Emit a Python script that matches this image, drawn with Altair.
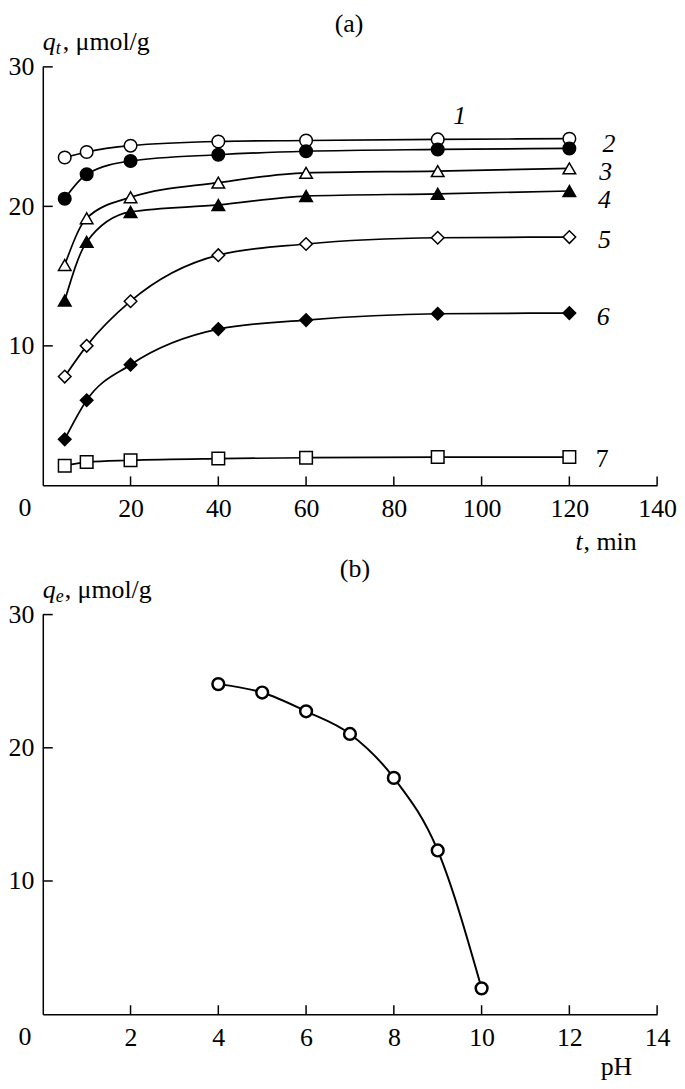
import altair as alt
import pandas as pd

FONT = "Liberation Serif, Times New Roman, serif"
FS = 26

# ---------- panel (a): kinetics ----------
t_min = [5, 10, 20, 40, 60, 90, 120]
q1 = [23.5, 23.9, 24.35, 24.65, 24.72, 24.8, 24.85]
q2 = [20.55, 22.3, 23.25, 23.7, 23.95, 24.08, 24.15]
q3 = [15.8, 19.15, 20.65, 21.7, 22.4, 22.53, 22.72]
q4 = [13.25, 17.45, 19.6, 20.1, 20.74, 20.9, 21.1]
q5 = [7.8, 10.0, 13.2, 16.5, 17.3, 17.75, 17.8]
q6 = [3.3, 6.1, 8.65, 11.2, 11.85, 12.3, 12.35]
q7 = [1.4, 1.67, 1.8, 1.92, 1.98, 2.03, 2.03]
series_q = [q1, q2, q3, q4, q5, q6, q7]
series_names = ["1", "2", "3", "4", "5", "6", "7"]
shapes = ["circle", "circle", "triangle-up", "triangle-up", "diamond", "diamond", "square"]
fills = ["white", "black", "white", "black", "white", "black", "white"]
sizes = [160, 160, 170, 170, 140, 140, 160]

label_t = [95, 129, 128.3, 128, 128, 127.7, 127.5]
label_q = [26.5, 24.45, 22.45, 20.45, 17.6, 12.1, 1.9]

xa_ticks = [20, 40, 60, 80, 100, 120, 140]
ya_ticks = [10, 20, 30]

# ---------- panel (b): pH ----------
pH = [4, 5, 6, 7, 8, 9, 10]
qe = [24.78, 24.15, 22.74, 21.04, 17.74, 12.29, 1.94]
xb_ticks = [2, 4, 6, 8, 10, 12, 14]
yb_ticks = [10, 20, 30]

W = 618
HA = 421
HB = 402

rows = []
for name, qs in zip(series_names, series_q):
    for t, q in zip(t_min, qs):
        rows.append({"t": t, "q": q, "s": name})
dfa = pd.DataFrame(rows)
dfa_lab = pd.DataFrame({"t": label_t, "q": label_q, "s": series_names})
dfb = pd.DataFrame({"pH": pH, "qe": qe})


def axis_x(values):
    return alt.Axis(values=values, ticks=False, tickSize=0, labelPadding=10,
                    labelFontSize=FS, labelFont=FONT, labelColor="black",
                    domainColor="black", domainWidth=1.5, grid=False, title=None,
                    labelFlush=False, labelOverlap=False)


def axis_y(values):
    return alt.Axis(values=values, ticks=False, tickSize=0, labelPadding=9,
                    labelFontSize=FS, labelFont=FONT, labelColor="black",
                    domainColor="black", domainWidth=1.5, grid=False, title=None,
                    labelFlush=False, labelOverlap=False)


def ptext(s, x, y, size=FS, style="normal", align="left"):
    return alt.Chart(pd.DataFrame({"s": [s]})).mark_text(
        text=s, font=FONT, fontSize=size, fontStyle=style, align=align,
        baseline="alphabetic", color="black"
    ).encode(x=alt.value(x), y=alt.value(y))


# ---- panel (a)
xsa = alt.Scale(domain=[0, 140], nice=False, zero=False)
ysa = alt.Scale(domain=[0, 30], nice=False, zero=False)
XA = lambda f="t": alt.X(f"{f}:Q", scale=xsa, axis=axis_x(xa_ticks))
YA = lambda f="q": alt.Y(f"{f}:Q", scale=ysa, axis=axis_y(ya_ticks))

lines_a = alt.Chart(dfa).mark_line(color="black", strokeWidth=1.7, interpolate="monotone").encode(
    x=XA(), y=YA(), detail="s:N")

pts_a = alt.Chart(dfa).mark_point(filled=True, stroke="black", strokeWidth=1.5,
                                  opacity=1, fillOpacity=1).encode(
    x=XA(), y=YA(),
    shape=alt.Shape("s:N", scale=alt.Scale(domain=series_names, range=shapes), legend=None),
    fill=alt.Fill("s:N", scale=alt.Scale(domain=series_names, range=fills), legend=None),
    size=alt.Size("s:N", scale=alt.Scale(domain=series_names, range=sizes), legend=None))

lab_it = alt.Chart(dfa_lab[dfa_lab.s != "7"]).mark_text(
    font=FONT, fontSize=FS, fontStyle="italic", color="black", baseline="middle").encode(
    x=XA(), y=YA(), text="s:N")
lab_up = alt.Chart(dfa_lab[dfa_lab.s == "7"]).mark_text(
    font=FONT, fontSize=FS, color="black", baseline="middle").encode(
    x=XA(), y=YA(), text="s:N")

xt_a = alt.Chart(pd.DataFrame({"t": xa_ticks})).mark_rule(color="black", strokeWidth=1.5).encode(
    x=XA(), y=alt.value(HA), y2=alt.value(HA - 9))
yt_a = alt.Chart(pd.DataFrame({"q": ya_ticks})).mark_rule(color="black", strokeWidth=1.5).encode(
    y=YA(), x=alt.value(0), x2=alt.value(10))

texts_a = [
    ptext("(a)", 308, -35, align="center"),
    ptext("q", 0, -17, style="italic"),
    ptext("t", 13, -13, size=18, style="italic"),
    ptext(", \u03bcmol/g", 20, -17),
    ptext("0", -18, HA + 31, align="center"),
    ptext("t", 536, HA + 65, style="italic"),
    ptext(", min", 544, HA + 65),
]

panel_a = alt.layer(
    lines_a, pts_a, lab_it, lab_up, xt_a, yt_a, *texts_a
).properties(width=W, height=HA)

# ---- panel (b)
xsb = alt.Scale(domain=[0, 14], nice=False, zero=False)
ysb = alt.Scale(domain=[0, 30], nice=False, zero=False)
XB = lambda f="pH": alt.X(f"{f}:Q", scale=xsb, axis=axis_x(xb_ticks))
YB = lambda f="qe": alt.Y(f"{f}:Q", scale=ysb, axis=axis_y(yb_ticks))

line_b = alt.Chart(dfb).mark_line(color="black", strokeWidth=2, interpolate="monotone").encode(
    x=XB(), y=YB())
pts_b = alt.Chart(dfb).mark_point(shape="circle", filled=True, fill="white", stroke="black",
                                  strokeWidth=2.5, size=140, opacity=1, fillOpacity=1).encode(
    x=XB(), y=YB())

xt_b = alt.Chart(pd.DataFrame({"pH": xb_ticks})).mark_rule(color="black", strokeWidth=1.5).encode(
    x=XB(), y=alt.value(HB), y2=alt.value(HB - 9))
yt_b = alt.Chart(pd.DataFrame({"qe": yb_ticks})).mark_rule(color="black", strokeWidth=1.5).encode(
    y=YB(), x=alt.value(0), x2=alt.value(10))

texts_b = [
    ptext("(b)", 314, -38, align="center"),
    ptext("q", 0, -17, style="italic"),
    ptext("e", 13, -13, size=18, style="italic"),
    ptext(", \u03bcmol/g", 22, -17),
    ptext("0", -18, HB + 31, align="center"),
    ptext("pH", 593, HB + 61, align="right"),
]

panel_b = alt.layer(
    line_b, pts_b, xt_b, yt_b, *texts_b
).properties(width=W, height=HB)

chart = alt.vconcat(panel_a, panel_b, spacing=1).properties(
    padding={"left": 0, "top": 0, "right": 0, "bottom": 0}
).configure_view(stroke=None)

chart.save("out.html", embed_options={"renderer": "svg", "actions": False})
